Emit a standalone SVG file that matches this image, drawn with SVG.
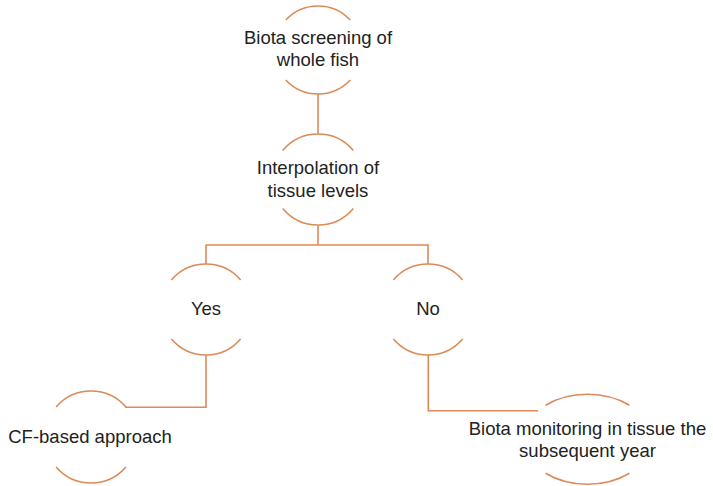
<svg xmlns="http://www.w3.org/2000/svg" width="713" height="486" viewBox="0 0 713 486">
<style>
.arc{fill:none;stroke:#DB8A58;stroke-width:1.6}
.con{fill:none;stroke:#DB8A58;stroke-width:1.6}
text{font-family:"Liberation Sans",Arial,sans-serif;font-size:18.5px;fill:#222222;text-anchor:middle}
</style>
<rect width="713" height="486" fill="#ffffff"/>
<g id="connectors">
<path class="con" d="M318,94 V133.5"/>
<path class="con" d="M318,225.5 V245 M205.5,245 H428.8 M206,245 V264 M428,245 V264"/>
<path class="con" d="M206,355 V407.3 H125"/>
<path class="con" d="M428.3,355 V410.7 H538"/>
</g>
<g id="node-screening">
<path class="arc" d="M285.8,20 A44 44 0 0 1 350.2,20 M285.8,80 A44 44 0 0 0 350.2,80"/>
<text x="318" y="43.5">Biota screening of</text>
<text x="318" y="65.5">whole fish</text>
</g>
<g id="node-interpolation">
<path class="arc" d="M282.7,150.5 A46 46 0 0 1 353.3,150.5 M282.7,208.5 A46 46 0 0 0 353.3,208.5"/>
<text x="318" y="174">Interpolation of</text>
<text x="318" y="197">tissue levels</text>
</g>
<g id="node-yes">
<path class="arc" d="M171.4,280 A45.5 45.5 0 0 1 240.6,280 M171.4,339 A45.5 45.5 0 0 0 240.6,339"/>
<text x="206" y="315">Yes</text>
</g>
<g id="node-no">
<path class="arc" d="M393.4,280 A45.5 45.5 0 0 1 462.6,280 M393.4,339 A45.5 45.5 0 0 0 462.6,339"/>
<text x="428" y="315">No</text>
</g>
<g id="node-cf">
<path class="arc" d="M56.1,407 A46 46 0 0 1 125.9,407 M56.1,467 A46 46 0 0 0 125.9,467"/>
<text x="90" y="443">CF-based approach</text>
</g>
<g id="node-monitoring">
<path class="arc" d="M545.6,405.3 A64 45 0 0 1 629.4,405.3 M545.6,473.3 A64 45 0 0 0 629.4,473.3"/>
<text x="587.5" y="435">Biota monitoring in tissue the</text>
<text x="587.5" y="457">subsequent year</text>
</g>
</svg>
